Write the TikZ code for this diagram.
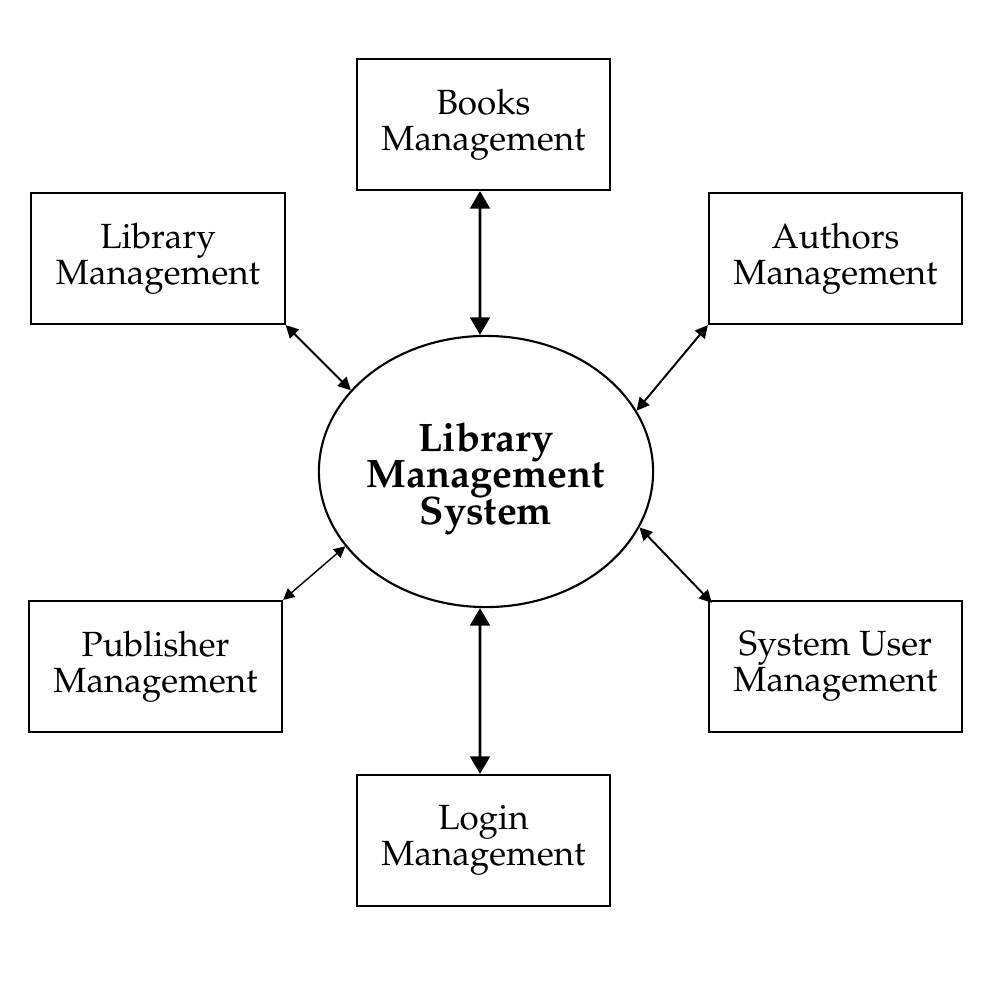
\documentclass[tikz,border=0pt]{standalone}
\usepackage[T1]{fontenc}
\usepackage{mathpazo}
\usetikzlibrary{shapes.geometric,arrows.meta}
\newcommand\corefont{\fontsize{11.3}{10.3}\selectfont\bfseries\lineskiplimit=-20pt\relax}
\tikzset{
  mbox/.style={draw, line width=0.6pt, minimum width=2.53cm, minimum height=1.31cm, inner sep=0pt, align=center, font=\fontsize{9.95}{10.3}\selectfont},
  core/.style={draw, ellipse, line width=0.6pt, minimum width=3.34cm, minimum height=2.71cm, inner sep=-4pt, align=center, font=\corefont},
  bigarrow/.style={line width=0.85pt, {Triangle[width=5.6pt,length=5pt]}-{Triangle[width=5.6pt,length=5pt]}},
  smallarrow/.style={line width=0.55pt, {Triangle[width=3.6pt,length=3.6pt]}-{Triangle[width=3.6pt,length=3.6pt]}},
  thinarrow/.style={line width=0.4pt, {Triangle[width=3.2pt,length=3.2pt]}-{Triangle[width=3.2pt,length=3.2pt]}}
}
\begin{document}
\begin{tikzpicture}[x=0.01cm,y=-0.01cm]
\useasboundingbox[fill=white] (0,0) rectangle (1000,1000);
\node[core] (sys) at (486,471.5) {\rule{0pt}{12.2pt}Library\\Management\\System};
\node[mbox] (books) at (483.5,124.5) {Books\\Management};
\node[mbox] (lib) at (158,258.5) {Library\\Management};
\node[mbox] (auth) at (835.5,258.5) {Authors\\Management};
\node[mbox] (pub) at (155.5,666.5) {Publisher\\Management};
\node[mbox] (user) at (835.5,666.5) {System User\\Management};
\node[mbox] (login) at (483.5,840.5) {Login\\Management};
\draw[bigarrow] ([xshift=-0.035cm]books.south) -- ([xshift=-0.06cm]sys.north);
\draw[bigarrow] ([xshift=-0.06cm]sys.south) -- ([xshift=-0.035cm]login.north);
\draw[smallarrow] (lib.south east) -- (sys.149.6);
\draw[smallarrow] (auth.south west) -- (sys.22.9);
\draw[thinarrow] (pub.north east) -- (sys.208.2);
\draw[smallarrow] ([xshift=0.04cm,yshift=-0.03cm]user.north west) -- (sys.340.1);
\end{tikzpicture}
\end{document}
